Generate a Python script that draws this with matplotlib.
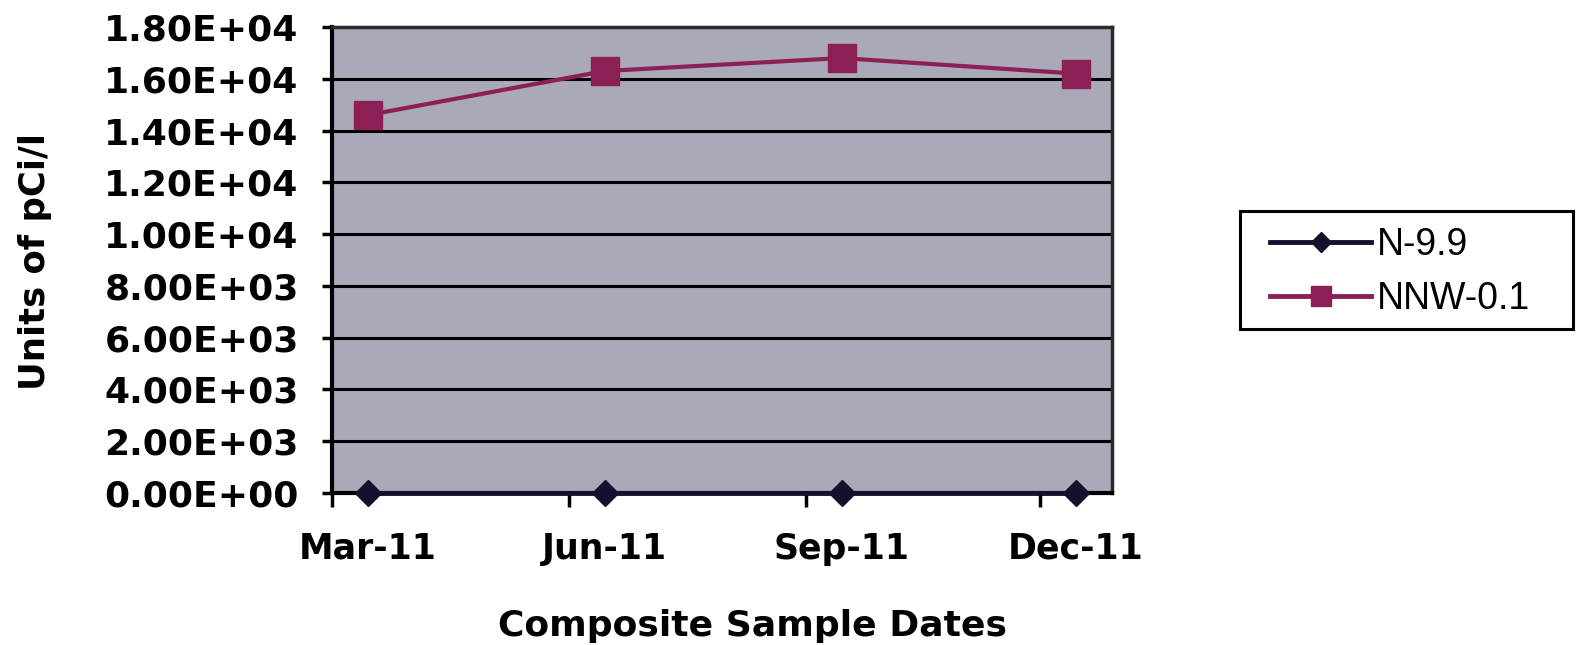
import matplotlib
matplotlib.use("Agg")
import matplotlib.pyplot as plt
import matplotlib.dates as mdates
import matplotlib.patches as mpatches
from matplotlib.ticker import FuncFormatter, NullFormatter
import pandas as pd

# ---- data ----
sample_dates = ["2011-03-15", "2011-06-15", "2011-09-15", "2011-12-15"]
date_labels = ["Mar-11", "Jun-11", "Sep-11", "Dec-11"]
n_9_9 = [0, 0, 0, 0]
nnw_0_1 = [14600, 16300, 16800, 16200]
series_names = ["N-9.9", "NNW-0.1"]
y_ticks = [0, 2000, 4000, 6000, 8000, 10000, 12000, 14000, 16000, 18000]

x = pd.to_datetime(sample_dates)

W, H = 1578, 645
fig = plt.figure(figsize=(W / 100, H / 100), dpi=100)
fig.patch.set_facecolor("white")
ax = fig.add_axes([332 / W, 1 - 493 / H, (1112 - 332) / W, (493 - 27) / H])
ax.set_facecolor("#AAA9B9")

bold = dict(family="DejaVu Sans", weight="bold")

ax.plot(x, n_9_9, color="#12122E", lw=3.5, marker="D", ms=13,
        markerfacecolor="#12122E", markeredgecolor="#12122E",
        label=series_names[0], zorder=4, clip_on=False)
ax.plot(x, nnw_0_1, color="#8C1F55", lw=3.0, marker="s", ms=20,
        markerfacecolor="#8C1F55", markeredgecolor="#8C1F55",
        label=series_names[1], zorder=4, clip_on=False)

ax.set_ylim(0, 18000)
ax.set_yticks(y_ticks)
ax.yaxis.set_major_formatter(FuncFormatter(lambda v, p: "{:.2E}".format(v)))
ax.grid(axis="y", color="black", lw=2.2, zorder=1)
ax.set_axisbelow(True)

ax.set_xlim(pd.Timestamp("2011-03-01"), pd.Timestamp("2011-12-29"))
ax.xaxis.set_major_locator(mdates.MonthLocator(bymonth=[3, 6, 9, 12]))
ax.xaxis.set_major_formatter(NullFormatter())
ax.set_xticks(x, labels=date_labels, minor=True)

ax.tick_params(axis="x", which="major", length=10, width=2.5, direction="out", color="black")
ax.tick_params(axis="x", which="minor", length=0, pad=28)
ax.tick_params(axis="y", length=7, width=2.5, direction="out", pad=17, color="black")
for lab in ax.get_xticklabels(minor=True):
    lab.set_fontsize(25)
    lab.set_fontweight("bold")
    lab.set_family("DejaVu Sans")
for lab in ax.get_yticklabels():
    lab.set_fontsize(26)
    lab.set_fontweight("bold")
    lab.set_family("DejaVu Sans")

for s in ["left", "bottom"]:
    ax.spines[s].set_linewidth(3)
    ax.spines[s].set_color("black")
for s in ["top", "right"]:
    ax.spines[s].set_linewidth(2.5)
    ax.spines[s].set_color("#2A2A2A")

fig.text(35 / W, 1 - 262 / H, "Units of pCi/l", rotation=90, ha="center",
         va="center", fontsize=25.5, **bold)
fig.text(753 / W, 1 - 636 / H, "Composite Sample Dates", ha="center",
         va="baseline", fontsize=26, **bold)

# legend with a hand-placed frame
frame = mpatches.Rectangle((1240 / W, 1 - 329 / H), 333 / W, 118 / H,
                           transform=fig.transFigure, facecolor="white",
                           edgecolor="black", lw=2.2, zorder=0)
fig.patches.append(frame)
leg = fig.legend(loc="center left", bbox_to_anchor=(1270 / W, 1 - 272 / H),
                 bbox_transform=fig.transFigure,
                 prop=dict(family="Liberation Sans", size=27),
                 handlelength=2.7, handletextpad=0.15, labelspacing=0.5,
                 borderpad=0, borderaxespad=0, frameon=False,
                 markerscale=0.75)
for line in leg.get_lines():
    line.set_linewidth(3.5)

fig.savefig("out.png", dpi=100)
